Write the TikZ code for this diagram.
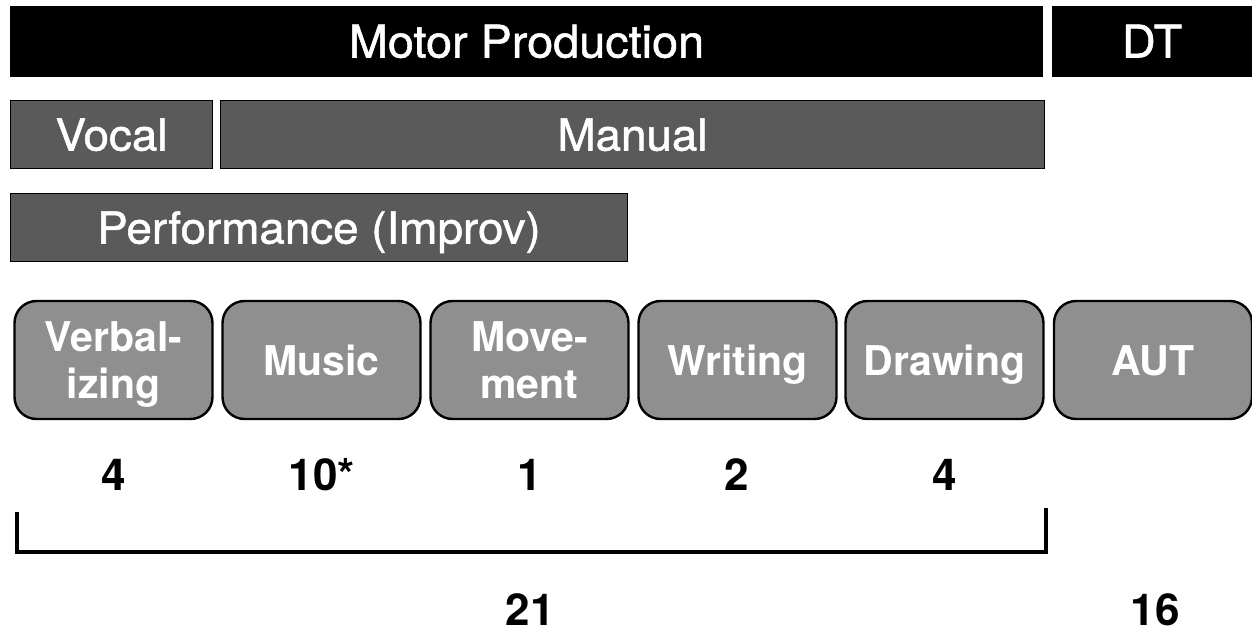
\documentclass[tikz,border=0pt]{standalone}
\usepackage{fontspec}
\setmainfont{TeX Gyre Heros}
\newfontfamily\barfont[FakeBold=1.2,FakeStretch=1.04]{TeX Gyre Heros}
\begin{document}
\begin{tikzpicture}[x=1pt,y=-1pt,
  header/.style={fill=black,text=white,inner sep=0pt,outer sep=0pt,
    text height=32pt,text depth=0pt,font=\barfont\fontsize{45}{48}\selectfont},
  group/.style={fill=gray35,draw=black,line width=1.6pt,text=white,inner sep=0pt,outer sep=0pt,
    text height=32pt,text depth=0pt,font=\barfont\fontsize{44}{48}\selectfont},
  task/.style={fill=gray57,draw=black,line width=2.4pt,rounded corners=22pt,text=white,
    inner sep=0pt,outer sep=0pt,minimum width=198pt,minimum height=118pt,align=center,
    text height=30pt,text depth=0pt,font=\bfseries\fontsize{41}{47}\selectfont},
  twoline/.style={text height=76pt,text depth=0pt},
  count/.style={inner sep=0pt,anchor=base,text depth=0pt,font=\bfseries\fontsize{44}{48}\selectfont},
  brace/.style={line width=4pt}]
\definecolor{gray35}{HTML}{5A5A5A}
\definecolor{gray57}{HTML}{8F8F8F}
\useasboundingbox (0,0) rectangle (1252,631);

% top bars
\node[header,minimum width=1033pt,minimum height=71pt] (motor) at (526.5,41.5) {Motor Production};
\node[header,minimum width=200pt,minimum height=71pt] (dt) at (1152,41.5) {DT};

% modality and performance bars
\node[group,minimum width=202pt,minimum height=68pt] (vocal) at (111.5,134.5) {Vocal};
\node[group,minimum width=824pt,minimum height=68pt] (manual) at (632.5,134.5) {Manual};
\node[group,minimum width=617pt,minimum height=68pt] (perf) at (319,227.5) {Performance (Improv)};

% task boxes
\node[task,twoline] (verb) at (113.5,360) {Verbal-\\izing};
\node[task] (music) at (321.5,360) {Music};
\node[task,twoline] (move) at (529.5,360) {Move-\\ment};
\node[task] (write) at (737.5,360) {Writing};
\node[task] (draw) at (944.5,360) {Drawing};
\node[task] (aut) at (1153,360) {AUT};

% counts per task
\node[count] (nverb) at (113.5,490) {4};
\node[count] (nmusic) at (322,490) {10*};
\node[count] (nmove) at (530,490) {1};
\node[count] (nwrite) at (737,490) {2};
\node[count] (ndraw) at (945,490) {4};

% bracket over the motor tasks
\coordinate (bl) at (17,512);
\coordinate (blc) at (17,552);
\coordinate (brc) at (1046,552);
\coordinate (br) at (1046,508);
\draw[brace] (bl) -- (blc) -- (brc) -- (br);

% totals
\node[count] (total) at (530,625) {21};
\node[count] (dttotal) at (1155,625) {16};
\end{tikzpicture}
\end{document}
